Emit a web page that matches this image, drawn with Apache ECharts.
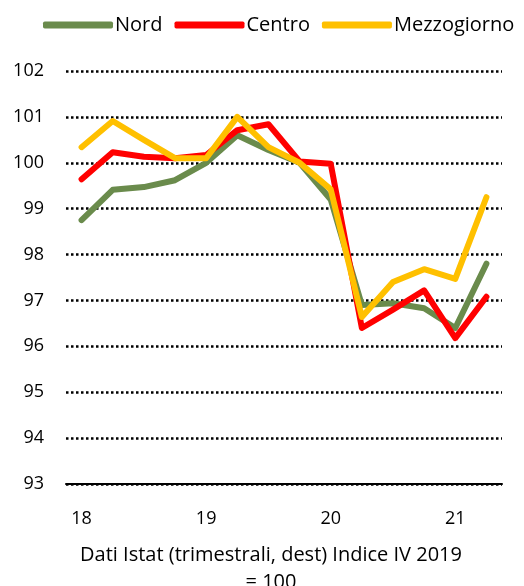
<!DOCTYPE html>
<html>
<head>
<meta charset="utf-8">
<script src="https://cdn.jsdelivr.net/npm/echarts@6/dist/echarts.min.js"></script>
<style>
  html, body { margin: 0; padding: 0; background: #fff; }
  #chart { width: 524px; height: 586px; }
</style>
</head>
<body>
<div id="chart"></div>
<script>
// trimestri da I 2018 a II 2021
const quarters = ['18', '18 II', '18 III', '18 IV', '19', '19 II', '19 III', '19 IV',
  '20', '20 II', '20 III', '20 IV', '21', '21 II']
const nord = [98.75, 99.41, 99.47, 99.62, 100.0, 100.6, 100.28, 100.0, 99.2, 96.9, 96.94, 96.83, 96.4, 97.8]
const centro = [99.64, 100.23, 100.13, 100.1, 100.17, 100.71, 100.84, 100.03, 99.98, 96.4, 96.8, 97.22, 96.18, 97.08]
const mezzogiorno = [100.34, 100.91, 100.5, 100.1, 100.1, 101.0, 100.34, 100.0, 99.42, 96.64, 97.4, 97.68, 97.47, 99.25]

const font = 'Open Sans'
const chart = echarts.init(document.getElementById('chart'))

function lineSeries(name, data, color) {
  return {
    name: name,
    type: 'line',
    data: data,
    symbol: 'none',
    lineStyle: { width: 6, color: color, cap: 'round', join: 'round' },
    itemStyle: { color: color }
  }
}

const option = {
  animation: false,
  textStyle: { fontFamily: font },
  title: {
    text: 'Dati Istat (trimestrali, dest) Indice IV 2019\n= 100',
    left: 266,
    textAlign: 'center',
    top: 537,
    textStyle: { fontSize: 20, fontWeight: 'normal', color: '#000', lineHeight: 27, fontFamily: font }
  },
  legend: {
    top: 10,
    left: 38,
    itemWidth: 70,
    itemHeight: 7,
    itemGap: 12,
    icon: 'roundRect',
    textStyle: { fontSize: 20, color: '#000', padding: [0, 0, 0, -3] }
  },
  grid: { left: 66, right: 22, top: 71, bottom: 102 },
  xAxis: {
    type: 'category',
    data: quarters,
    boundaryGap: true,
    axisLine: { lineStyle: { color: '#000', width: 2 } },
    axisTick: { show: false },
    axisLabel: {
      interval: 3,
      margin: 26,
      fontSize: 18,
      color: '#000',
      formatter: (v) => v.split(' ')[0]
    }
  },
  yAxis: {
    type: 'value',
    min: 93,
    max: 102,
    interval: 1,
    axisLine: { show: false },
    axisTick: { show: false },
    axisLabel: { fontSize: 18, color: '#000', margin: 22 },
    splitLine: { lineStyle: { color: '#000', width: 2.5, type: [2.5, 2.5] } }
  },
  series: [
    lineSeries('Nord', nord, '#6A8B4C'),
    lineSeries('Centro', centro, '#FF0000'),
    lineSeries('Mezzogiorno', mezzogiorno, '#FFC000')
  ]
}
chart.setOption(option)
</script>
</body>
</html>
